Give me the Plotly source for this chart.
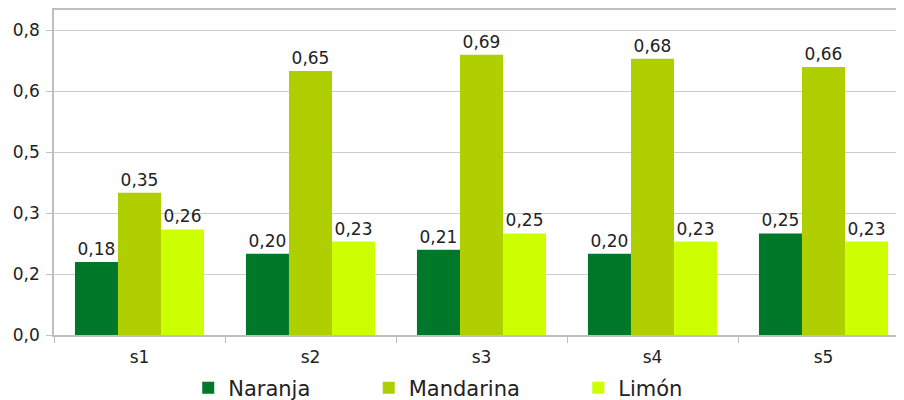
import plotly.graph_objects as go

categories = ["s1", "s2", "s3", "s4", "s5"]
naranja = [0.18, 0.20, 0.21, 0.20, 0.25]
mandarina = [0.35, 0.65, 0.69, 0.68, 0.66]
limon = [0.26, 0.23, 0.25, 0.23, 0.23]
series_names = ["Naranja", "Mandarina", "Limón"]
colors = ["#00782A", "#B0CF00", "#CCFF00"]
ytick_vals = [0, 0.15, 0.30, 0.45, 0.60, 0.75]
ytick_text = ["0,0", "0,2", "0,3", "0,5", "0,6", "0,8"]

font_family = "DejaVu Sans"
pad = "\u00a0" * 8
fig = go.Figure()
for i, (name, vals, col) in enumerate(zip(series_names, [naranja, mandarina, limon], colors)):
    fig.add_trace(go.Bar(
        x=categories, y=vals, name=name + (pad if i < 2 else ""),
        marker=dict(color=col, line=dict(width=0)),
        texttemplate="%{y:.2f}", textposition="outside", cliponaxis=False,
        textfont=dict(size=17, color="#222222", family=font_family),
    ))

fig.update_layout(
    width=904, height=400,
    margin=dict(l=46, r=3, t=2, b=73, autoexpand=False),
    barmode="group", bargap=0.245, bargroupgap=0,
    separators=",.",
    plot_bgcolor="white", paper_bgcolor="white",
    font=dict(family=font_family, size=16, color="#222222"),
    showlegend=True,
    legend=dict(orientation="h", x=0.157, xanchor="left",
                yref="container", y=0.05, yanchor="middle",
                font=dict(size=21, color="#222222", family=font_family),
                tracegroupgap=0, borderwidth=0),
)
fig.update_xaxes(
    range=[-0.5, 4.5], tickson="boundaries", ticks="outside", ticklen=6,
    tickcolor="#BFBFBF", showline=True, linecolor="#BFBFBF", linewidth=1.5, mirror=True,
    showgrid=False, tickfont=dict(size=17, color="#222222"), automargin=False,
    ticklabelstandoff=6,
)
fig.update_yaxes(
    range=[0, 0.8], tickvals=ytick_vals, ticktext=ytick_text, ticks="outside",
    ticklen=6, tickcolor="#BFBFBF", showline=True, linecolor="#BFBFBF", linewidth=1.5,
    showgrid=True, gridcolor="#CCCCCC", gridwidth=1.2, zeroline=False,
    tickfont=dict(size=17, color="#222222"), automargin=False, ticklabelstandoff=3,
)
fig.write_html("out.html")
